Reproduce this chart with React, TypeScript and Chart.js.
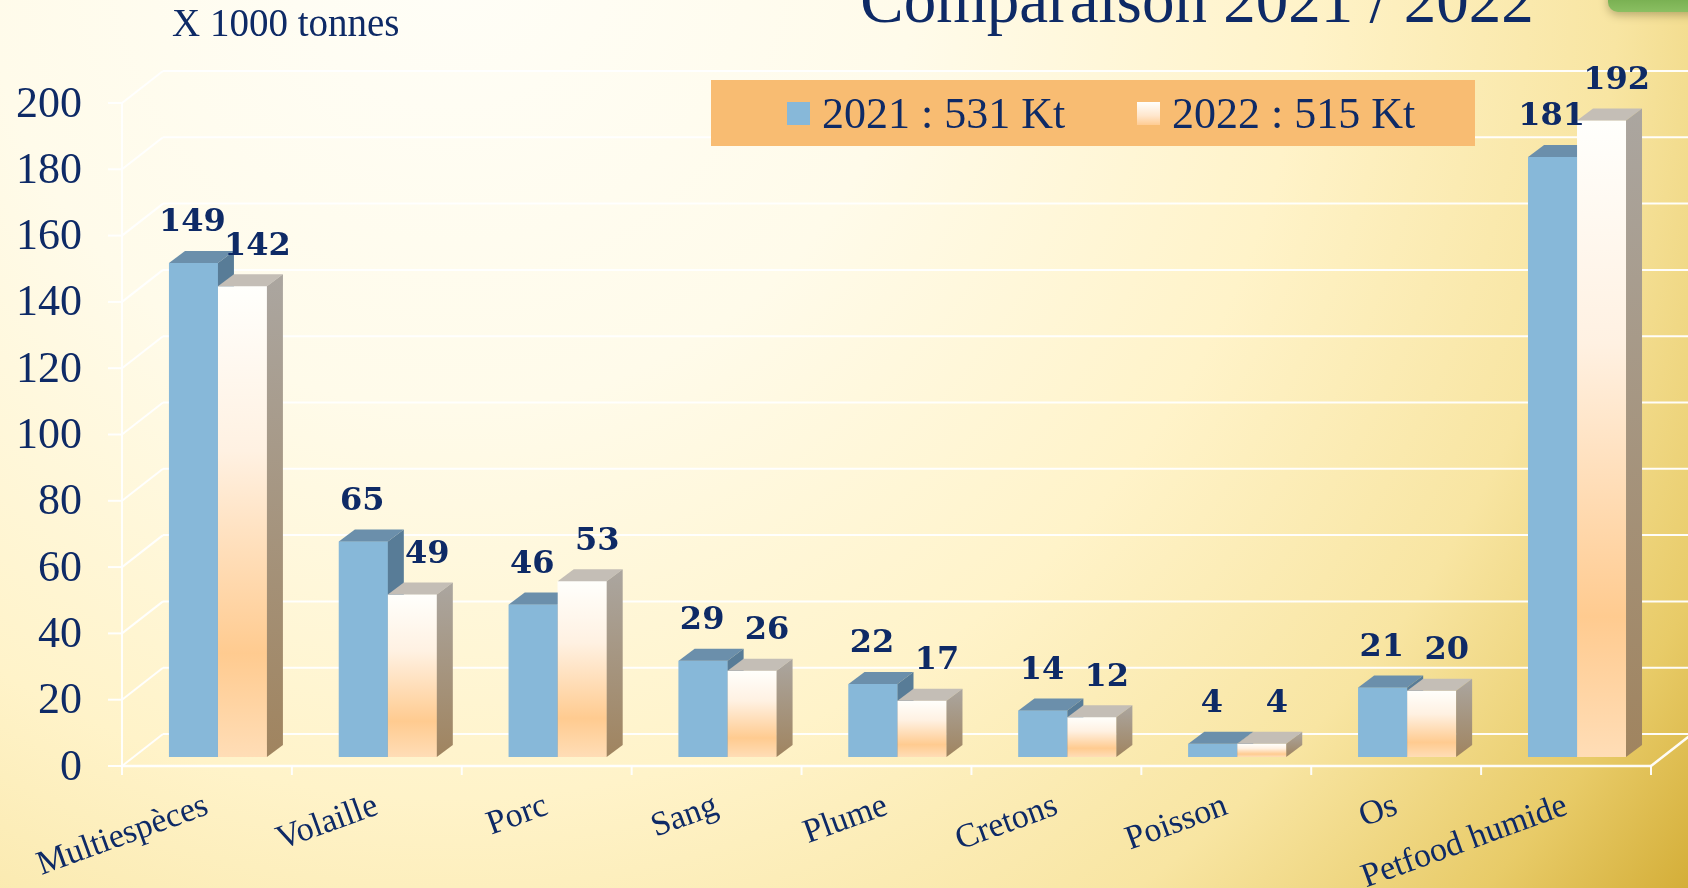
import React, { useEffect, useRef } from 'react';
import { Chart, registerables } from 'chart.js';

Chart.register(...registerables);

// ---------- data ----------
const categories = ['Multiespèces', 'Volaille', 'Porc', 'Sang', 'Plume', 'Cretons', 'Poisson', 'Os', 'Petfood humide'];
const values2021 = [149, 65, 46, 29, 22, 14, 4, 21, 181];
const values2022 = [142, 49, 53, 26, 17, 12, 4, 20, 192];
const seriesNames = ['2021 : 531 Kt', '2022 : 515 Kt'];
const yMin = 0;
const yMax = 200;
const yStep = 20;
const titleText = 'Comparaison 2021 / 2022';
const unitText = 'X 1000 tonnes';

// ---------- style ----------
const W = 1688;
const H = 888;
const NAVY = '#0E2A66';
const SERIF = '"Liberation Serif", "Times New Roman", serif';
const BOLDSERIF = '"DejaVu Serif", serif';
const FRONT = { dx: -11, dy: 9 };
const BACK = { dx: 30, dy: -23 };
const DEPTH = { dx: 16, dy: -12 };
const BLUE = '#87B8D9';
const BLUE_TOP = '#6B8FAB';
const BLUE_SIDE = '#587C97';
const CREAM_TOP = '#C4BEB6';

function creamFront(ctx: CanvasRenderingContext2D, top: number, base: number) {
  const g = ctx.createLinearGradient(0, top, 0, base);
  g.addColorStop(0, '#FFFFFC');
  g.addColorStop(0.35, '#FFF1E2');
  g.addColorStop(0.78, '#FFCB90');
  g.addColorStop(1, '#FFDDB6');
  return g;
}

const bgPlugin = {
  id: 'bg',
  beforeDraw(chart: any) {
    const { ctx } = chart;
    ctx.save();
    const g = ctx.createRadialGradient(450, -60, 0, 450, -60, 1560);
    g.addColorStop(0, '#FFFEF8');
    g.addColorStop(0.3, '#FFFBEA');
    g.addColorStop(0.55, '#FFF3C9');
    g.addColorStop(0.75, '#F8E5A2');
    g.addColorStop(0.9, '#E8CB68');
    g.addColorStop(1, '#D4AE38');
    ctx.fillStyle = g;
    ctx.fillRect(0, 0, chart.width, chart.height);
    ctx.restore();
  },
};

function line(ctx: CanvasRenderingContext2D, x1: number, y1: number, x2: number, y2: number) {
  ctx.beginPath();
  ctx.moveTo(x1, y1);
  ctx.lineTo(x2, y2);
  ctx.stroke();
}

const gridPlugin = {
  id: 'grid3d',
  beforeDatasetsDraw(chart: any) {
    const { ctx, chartArea: a } = chart;
    const ys = chart.scales.y;
    const xs = chart.scales.x;
    ctx.save();
    ctx.strokeStyle = 'rgba(255,255,255,0.95)';
    ctx.lineWidth = 2;
    const fx = a.left + FRONT.dx;
    const bx = a.left + BACK.dx;
    ys.ticks.forEach((t: any) => {
      const yb = ys.getPixelForValue(t.value);
      const fy = yb + FRONT.dy;
      const by = yb + BACK.dy;
      line(ctx, fx - 14, fy, fx, fy);
      line(ctx, fx, fy, bx, by);
      line(ctx, bx, by, chart.width, by);
    });
    const f0 = ys.getPixelForValue(yMin) + FRONT.dy;
    const fT = ys.getPixelForValue(yMax) + FRONT.dy;
    line(ctx, fx, fT, fx, f0);
    const fr = a.right + FRONT.dx;
    ctx.lineWidth = 2.5;
    line(ctx, fx, f0, fr, f0);
    line(ctx, fr, f0, fr + (BACK.dx - FRONT.dx), f0 + (BACK.dy - FRONT.dy));
    ctx.lineWidth = 2;
    for (let i = 0; i <= categories.length; i++) {
      const px = xs.getPixelForValue(i - 0.5) + FRONT.dx;
      line(ctx, px, f0, px, f0 + 9);
    }
    ctx.restore();
  },
};

// Redraws every bar in painter's order (left series first inside each group)
// and adds the top and side faces that give the 3D look.
const facesPlugin = {
  id: 'faces3d',
  afterDatasetsDraw(chart: any) {
    const ctx: CanvasRenderingContext2D = chart.ctx;
    const metas = chart.data.datasets.map((_: any, i: number) => chart.getDatasetMeta(i));
    ctx.save();
    for (let j = 0; j < categories.length; j++) {
      metas.forEach((meta: any, idx: number) => {
        const el = meta.data[j];
        if (!el) return;
        el.draw(ctx, chart.chartArea);
        const { x, y, base, width } = el.getProps(['x', 'y', 'base', 'width'], true);
        const L = x - width / 2;
        const R = x + width / 2;
        ctx.beginPath();
        ctx.moveTo(L, y);
        ctx.lineTo(R, y);
        ctx.lineTo(R + DEPTH.dx, y + DEPTH.dy);
        ctx.lineTo(L + DEPTH.dx, y + DEPTH.dy);
        ctx.closePath();
        ctx.fillStyle = idx === 0 ? BLUE_TOP : CREAM_TOP;
        ctx.fill();
        ctx.beginPath();
        ctx.moveTo(R, y);
        ctx.lineTo(R + DEPTH.dx, y + DEPTH.dy);
        ctx.lineTo(R + DEPTH.dx, base + DEPTH.dy);
        ctx.lineTo(R, base);
        ctx.closePath();
        if (idx === 0) {
          ctx.fillStyle = BLUE_SIDE;
        } else {
          const g = ctx.createLinearGradient(0, y + DEPTH.dy, 0, base);
          g.addColorStop(0, '#ABA6A0');
          g.addColorStop(1, '#A0845F');
          ctx.fillStyle = g;
        }
        ctx.fill();
      });
    }
    ctx.restore();
  },
};

const labelsPlugin = {
  id: 'valueLabels',
  afterDatasetsDraw(chart: any) {
    const ctx: CanvasRenderingContext2D = chart.ctx;
    ctx.save();
    ctx.font = `bold 32px ${BOLDSERIF}`;
    ctx.fillStyle = NAVY;
    ctx.textAlign = 'center';
    ctx.textBaseline = 'middle';
    chart.data.datasets.forEach((ds: any, i: number) => {
      const meta = chart.getDatasetMeta(i);
      meta.data.forEach((el: any, j: number) => {
        const { x, y } = el.getProps(['x', 'y'], true);
        ctx.fillText(String(ds.data[j]), x + (i === 0 ? -1 : 15), y + DEPTH.dy - 28);
      });
    });
    ctx.restore();
  },
};

const overlayPlugin = {
  id: 'overlay',
  afterDraw(chart: any) {
    const ctx: CanvasRenderingContext2D = chart.ctx;
    ctx.save();
    // green decoration top-right
    ctx.save();
    ctx.shadowColor = 'rgba(60,60,20,0.35)';
    ctx.shadowBlur = 10;
    ctx.shadowOffsetY = 3;
    const gg = ctx.createLinearGradient(0, -20, 0, 13);
    gg.addColorStop(0, '#5E9A3A');
    gg.addColorStop(1, '#8CC063');
    ctx.fillStyle = gg;
    ctx.beginPath();
    ctx.roundRect(1608, -40, 120, 52, 10);
    ctx.fill();
    ctx.restore();

    // unit text
    ctx.fillStyle = NAVY;
    ctx.font = `39px ${SERIF}`;
    ctx.textAlign = 'left';
    ctx.textBaseline = 'alphabetic';
    ctx.fillText(unitText, 172, 36);

    // title
    ctx.font = `65px ${SERIF}`;
    ctx.textAlign = 'center';
    ctx.fillText(titleText, 1197, 22);

    // legend
    ctx.fillStyle = '#F8BC72';
    ctx.fillRect(711, 80, 764, 66);
    ctx.fillStyle = BLUE;
    ctx.fillRect(787, 102, 23, 23);
    const lg = ctx.createLinearGradient(0, 102, 0, 125);
    lg.addColorStop(0, '#FFFFFC');
    lg.addColorStop(0.6, '#FFE6CC');
    lg.addColorStop(1, '#FFCC93');
    ctx.fillStyle = lg;
    ctx.fillRect(1137, 102, 23, 23);
    ctx.fillStyle = NAVY;
    ctx.font = `44px ${SERIF}`;
    ctx.textAlign = 'left';
    ctx.fillText(seriesNames[0], 822, 128);
    ctx.fillText(seriesNames[1], 1172, 128);
    ctx.restore();
  },
};

export default function App() {
  const ref = useRef<HTMLCanvasElement | null>(null);

  useEffect(() => {
    if (!ref.current) return;
    const chart = new Chart(ref.current, {
      type: 'bar',
      data: {
        labels: categories,
        datasets: [
          {
            label: seriesNames[0],
            data: values2021,
            backgroundColor: BLUE,
            borderWidth: 0,
            categoryPercentage: 0.5765,
            barPercentage: 1,
          },
          {
            label: seriesNames[1],
            data: values2022,
            backgroundColor: (c: any) => {
              const chart = c.chart;
              if (!chart.chartArea || c.type !== 'data') return '#FFDDB6';
              const ys = chart.scales.y;
              return creamFront(chart.ctx, ys.getPixelForValue(c.raw), ys.getPixelForValue(0));
            },
            borderWidth: 0,
            categoryPercentage: 0.5765,
            barPercentage: 1,
          },
        ],
      },
      options: {
        animation: false,
        responsive: false,
        devicePixelRatio: 1,
        layout: { padding: { top: 94, right: 26, left: 0, bottom: 0 } },
        plugins: {
          legend: { display: false },
          tooltip: { enabled: false },
          title: { display: false },
        },
        scales: {
          x: {
            type: 'category',
            offset: true,
            grid: { display: false, drawTicks: false },
            border: { display: false },
            ticks: {
              autoSkip: false,
              minRotation: 20,
              maxRotation: 20,
              labelOffset: FRONT.dx,
              padding: 29,
              color: NAVY,
              font: { family: SERIF, size: 34 },
            },
            afterFit: (s: any) => {
              s.height = 131;
            },
          },
          y: {
            min: yMin,
            max: yMax,
            grid: { display: false, drawTicks: false },
            border: { display: false },
            ticks: {
              stepSize: yStep,
              padding: 51,
              labelOffset: 11,
              color: NAVY,
              font: { family: SERIF, size: 44 },
            },
            afterFit: (s: any) => {
              s.width = 133;
            },
          },
        },
      },
      plugins: [bgPlugin, gridPlugin, facesPlugin, labelsPlugin, overlayPlugin],
    } as any);
    return () => chart.destroy();
  }, []);

  return (
    <div style={{ position: 'fixed', left: 0, top: 0, width: W, height: H, overflow: 'hidden' }}>
      <canvas ref={ref} width={W} height={H} style={{ display: 'block', width: W, height: H }} />
    </div>
  );
}
